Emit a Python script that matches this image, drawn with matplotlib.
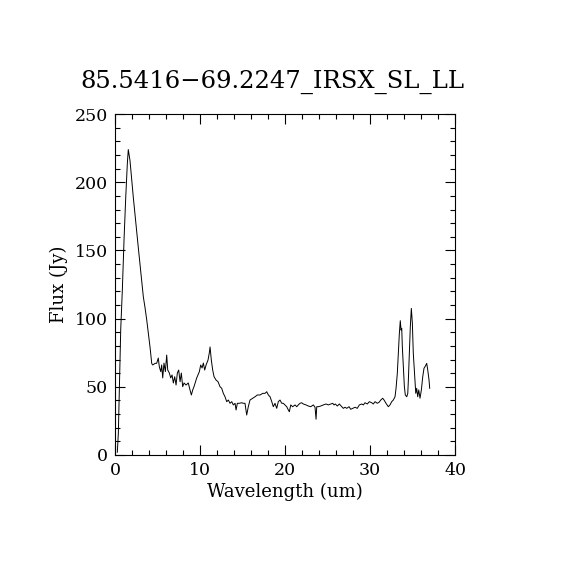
import numpy as np
import matplotlib.pyplot as plt
from matplotlib.ticker import MultipleLocator

# spectrum
wavelength = [
    0.27, 0.39, 0.51, 0.67, 0.86, 1.06, 1.26, 1.45, 1.56, 1.76, 2.15, 2.74,
    3.33, 3.53, 3.73, 4.12, 4.32, 4.44, 4.71, 4.90, 5.09, 5.21, 5.38, 5.49,
    5.61, 5.76, 5.92, 6.08, 6.20, 6.39, 6.55, 6.71, 6.86, 7.02, 7.18, 7.33,
    7.49, 7.65, 7.80, 7.96, 8.12, 8.35, 8.62, 8.82, 8.98, 9.14, 9.29, 9.61,
    9.92, 10.08, 10.24, 10.39, 10.55, 10.71, 10.94, 11.09, 11.18, 11.33,
    11.49, 11.65, 11.88, 12.12, 12.35, 12.55, 12.74, 12.94, 13.14, 13.33,
    13.53, 13.73, 13.92, 14.12, 14.24, 14.39, 14.62, 14.90, 15.09, 15.29,
    15.49, 15.68, 15.88, 16.20, 16.47, 16.74, 17.06, 17.38, 17.65, 17.85,
    18.04, 18.24, 18.44, 18.62, 18.82, 19.02, 19.21, 19.41, 19.61, 19.80,
    20.00, 20.20, 20.39, 20.51, 20.67, 20.90, 21.18, 21.38, 21.56, 21.76,
    21.96, 22.15, 22.47, 22.74, 23.02, 23.33, 23.53, 23.65, 23.73, 23.92,
    24.20, 24.51, 24.82, 25.09, 25.38, 25.61, 25.76, 25.92, 26.15, 26.39,
    26.67, 26.86, 27.06, 27.26, 27.53, 27.73, 27.96, 28.24, 28.50, 28.74,
    29.02, 29.21, 29.41, 29.68, 29.92, 30.20, 30.39, 30.59, 30.86, 31.09,
    31.26, 31.49, 31.65, 31.88, 32.15, 32.35, 32.55, 32.74, 32.94, 33.06,
    33.21, 33.33, 33.45, 33.56, 33.65, 33.73, 33.80, 33.92, 34.04, 34.15,
    34.32, 34.44, 34.51, 34.62, 34.74, 34.86, 34.98, 35.09, 35.26, 35.38,
    35.49, 35.61, 35.73, 35.88, 36.04, 36.20, 36.35, 36.51, 36.67, 36.79,
    36.94, 37.02,
]
flux = [
    2, 16, 50, 92, 121, 158, 189, 214, 224, 216, 189, 152,
    116, 108, 99, 79, 67, 66, 67.2, 67.2, 71.1, 64.7, 61.1, 66,
    56.5, 67.4, 61.1, 73.3, 62.3, 60.1, 56.5, 58.7, 52.8, 57.4, 51.3, 60.1,
    62.3, 53.7, 60.1, 50.1, 52.8, 51.3, 52.8, 47.7, 44, 47.7, 50.1, 56.5,
    61.1, 66, 63.8, 67.4, 62.3, 66, 69.6, 74.8, 79.2, 69.6,
    62.3, 57.4, 55, 53.7, 50.1, 48.9, 45.2, 42.7, 39.1, 40.3,
    37.9, 39.1, 36.7, 37.9, 33, 37.9, 37.9, 38.3, 37.9, 37.9,
    29.3, 35.4, 40.3, 41.6, 42.7, 44, 44, 45.2, 45.2, 46.4,
    44, 42.7, 39.1, 35.4, 37.9, 34.2, 39.1, 40.3, 37.9, 37.9,
    36.7, 35.4, 33, 31.7, 36.7, 35.4, 36.7, 35.4, 36.7, 37.9,
    38.3, 37.4, 36.7, 35.9, 35.4, 36.7, 35, 26.2, 35.4, 35.4,
    35.9, 36.7, 37.4, 36.7, 37.4, 37.9, 36.7, 37.4, 35.9, 37.4,
    35.4, 34.2, 35, 34.2, 35.4, 33.5, 34.2, 35, 34.2, 36.7,
    37.4, 36.7, 38.3, 37.4, 39.1, 38.3, 37.4, 39.1, 37.9, 38.8,
    40.3, 41.6, 40.3, 37.9, 35.4, 36.7, 39.1, 40.3, 42.7, 48.9,
    59.9, 74.6, 89.2, 98.5, 91.6, 92.9, 79.4, 64.7, 50.1, 44,
    42.7, 45.2, 55, 74.6, 94.1, 107.5, 96.6, 74.6, 57.4, 45.2,
    48.9, 42.7, 47.7, 41.6, 47.7, 57.4, 63.6, 65.2, 67.2, 62.3,
    55, 48.9,
]

titulo = '85.5416\u221269.2247_IRSX_SL_LL'

plt.rcParams['font.family'] = ['DejaVu Serif']

fig = plt.figure(figsize=(5.7, 5.7), dpi=100)
ax = fig.add_axes([0.2018, 0.2018, 0.5965, 0.598])

ax.plot(wavelength, flux, color='black', linewidth=0.7)

ax.set_xlim(0, 40)
ax.set_ylim(0, 250)
ax.xaxis.set_major_locator(MultipleLocator(10))
ax.xaxis.set_minor_locator(MultipleLocator(2))
ax.yaxis.set_major_locator(MultipleLocator(50))
ax.yaxis.set_minor_locator(MultipleLocator(10))
ax.tick_params(which='both', direction='in', top=True, right=True,
               width=0.8, labelsize=12.5, pad=5)
ax.tick_params(which='major', length=7)
ax.tick_params(which='minor', length=3.5)
for s in ax.spines.values():
    s.set_linewidth(0.8)

ax.set_xlabel('Wavelength (um)', fontsize=13, labelpad=3)
ax.set_ylabel('Flux (Jy)', fontsize=13, labelpad=5)
# titulo um pouco deslocado para a esquerda, como no original
fig.text(0.478, 0.856, titulo, fontsize=17.5, ha='center', va='center')

fig.savefig('out.png', dpi=100)
